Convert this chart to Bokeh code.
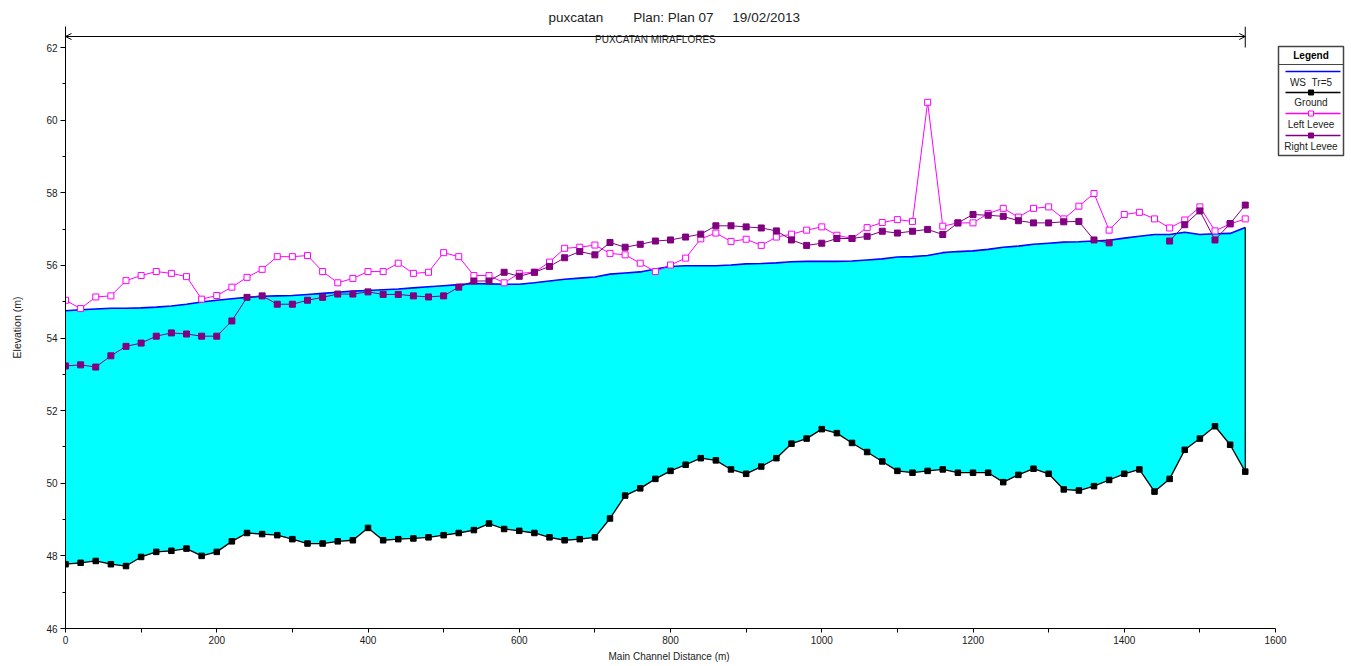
import numpy as np
from bokeh.plotting import figure
from bokeh.models import FixedTicker, Label, Arrow, OpenHead, Title
from bokeh.embed import file_html
from bokeh.resources import INLINE

# ---------------- data ----------------
station = [0, 20, 40, 60, 80, 100, 120, 140, 160, 180, 200, 220, 240, 260, 280, 300,
           320, 340, 360, 380, 400, 420, 440, 460, 480, 500, 520, 540, 560, 580, 600,
           620, 640, 660, 680, 700, 720, 740, 760, 780, 800, 820, 840, 860, 880, 900,
           920, 940, 960, 980, 1000, 1020, 1040, 1060, 1080, 1100, 1120, 1140, 1160,
           1180, 1200, 1220, 1240, 1260, 1280, 1300, 1320, 1340, 1360, 1380, 1400,
           1420, 1440, 1460, 1480, 1500, 1520, 1540, 1560]

ground = [47.77, 47.81, 47.86, 47.77, 47.72, 47.97, 48.11, 48.14, 48.20, 48.00, 48.11,
          48.40, 48.63, 48.60, 48.57, 48.46, 48.34, 48.34, 48.40, 48.43, 48.77, 48.43,
          48.46, 48.48, 48.51, 48.57, 48.63, 48.71, 48.89, 48.74, 48.69, 48.63, 48.51,
          48.43, 48.46, 48.51, 49.03, 49.66, 49.86, 50.12, 50.34, 50.51, 50.69, 50.63,
          50.38, 50.26, 50.46, 50.69, 51.09, 51.23, 51.49, 51.38, 51.11, 50.86, 50.60,
          50.34, 50.29, 50.34, 50.38, 50.29, 50.29, 50.29, 50.03, 50.23, 50.40, 50.26,
          49.83, 49.80, 49.92, 50.09, 50.26, 50.38, 49.77, 50.12, 50.92, 51.23, 51.57,
          51.06, 50.32]

ws_tr5 = [54.75, 54.78, 54.80, 54.82, 54.82, 54.83, 54.85, 54.88, 54.93, 54.99, 55.04,
          55.08, 55.12, 55.15, 55.16, 55.17, 55.20, 55.23, 55.26, 55.29, 55.31, 55.33,
          55.35, 55.38, 55.41, 55.44, 55.47, 55.50, 55.49, 55.48, 55.48, 55.52, 55.57,
          55.62, 55.65, 55.68, 55.76, 55.79, 55.82, 55.90, 55.97, 55.99, 55.99, 55.99,
          56.01, 56.04, 56.05, 56.07, 56.10, 56.11, 56.11, 56.11, 56.12, 56.15, 56.18,
          56.23, 56.24, 56.27, 56.35, 56.38, 56.40, 56.44, 56.50, 56.53, 56.58, 56.61,
          56.64, 56.65, 56.67, 56.69, 56.75, 56.80, 56.85, 56.85, 56.91, 56.85, 56.87,
          56.88, 57.04]

left_levee = [55.04, 54.81, 55.13, 55.16, 55.58, 55.72, 55.83, 55.78, 55.69, 55.07, 55.17,
              55.40, 55.67, 55.89, 56.24, 56.24, 56.27, 55.83, 55.52, 55.64, 55.83, 55.83,
              56.06, 55.78, 55.81, 56.35, 56.24, 55.72, 55.72, 55.52, 55.78, 55.81, 56.09,
              56.47, 56.50, 56.56, 56.33, 56.29, 56.06, 55.83, 56.01, 56.20, 56.73, 56.89,
              56.66, 56.72, 56.55, 56.78, 56.86, 56.97, 57.06, 56.83, 56.74, 57.04, 57.18,
              57.26, 57.21, 60.49, 57.08, 57.17, 57.17, 57.43, 57.57, 57.33, 57.57, 57.61,
              57.28, 57.63, 57.98, 56.97, 57.40, 57.46, 57.28, 57.03, 57.25, 57.61, 56.95,
              57.14, 57.28]

right_levee = [53.23, 53.26, 53.20, 53.51, 53.77, 53.86, 54.05, 54.14, 54.11, 54.05, 54.05,
               54.47, 55.12, 55.16, 54.93, 54.93, 55.04, 55.12, 55.21, 55.21, 55.27, 55.20,
               55.20, 55.16, 55.13, 55.16, 55.40, 55.57, 55.57, 55.81, 55.70, 55.81, 55.97,
               56.21, 56.38, 56.29, 56.63, 56.50, 56.58, 56.67, 56.70, 56.78, 56.86, 57.09,
               57.09, 57.06, 57.03, 56.95, 56.70, 56.55, 56.61, 56.74, 56.74, 56.80, 56.94,
               56.89, 56.94, 56.99, 56.85, 57.17, 57.40, 57.38, 57.35, 57.23, 57.17, 57.17,
               57.20, 57.21, 56.70, 56.62, None, None, None, 56.67, 57.12, 57.50, 56.70,
               57.15, 57.66]

x_ticks = [0, 200, 400, 600, 800, 1000, 1200, 1400, 1600]
x_minor = [100, 300, 500, 700, 900, 1100, 1300, 1500]
y_ticks = [46, 48, 50, 52, 54, 56, 58, 60, 62]
y_minor = [47, 49, 51, 53, 55, 57, 59, 61]

title_text = "puxcatan\u00a0\u00a0\u00a0\u00a0\u00a0\u00a0\u00a0\u00a0Plan: Plan 07\u00a0\u00a0\u00a0\u00a0\u00a019/02/2013"
reach_name = "PUXCATAN MIRAFLORES"
x_label = "Main Channel Distance (m)"
y_label = "Elevation (m)"
legend_title = "Legend"
legend_labels = ["WS\u00a0\u00a0Tr=5", "Ground", "Left Levee", "Right Levee"]

# ---------------- layout helpers (canvas pixels -> data) ----------------
FONT = "Liberation Sans"
W, H = 1348, 666
FR_L, FR_R, FR_T, FR_B = 65, 1345, 26, 628
PX_PER_M = 1210.0 / 1600.0
PX_PER_U = 581.0 / 16.0


def dx(px):
    return (px - FR_L) / PX_PER_M


def dy(py):
    return 46.0 + (FR_B - py) / PX_PER_U


st = np.array(station, dtype=float)
gr = np.array(ground, dtype=float)
ws = np.array(ws_tr5, dtype=float)
ll = np.array(left_levee, dtype=float)
rl = np.array([np.nan if v is None else v for v in right_levee], dtype=float)

p = figure(width=W, height=H, output_backend="svg", toolbar_location=None,
           x_range=(dx(FR_L), dx(FR_R)), y_range=(dy(FR_B), dy(FR_T)),
           min_border_left=FR_L, min_border_right=W - FR_R, min_border_top=FR_T,
           min_border_bottom=H - FR_B)
p.xgrid.grid_line_color = None
p.ygrid.grid_line_color = None
p.outline_line_color = None
p.background_fill_color = "white"
p.border_fill_color = "white"

# title (above the frame, left aligned with an offset)
p.title.text = title_text
p.title.align = "left"
p.title.offset = 548 - FR_L
p.title.text_font = FONT
p.title.text_font_size = "13.5px"
p.title.text_font_style = "normal"
p.title.text_color = "#222222"
p.title.standoff = 4

# axes
p.xaxis.ticker = FixedTicker(ticks=x_ticks, minor_ticks=x_minor)
p.yaxis.ticker = FixedTicker(ticks=y_ticks, minor_ticks=y_minor)
p.xaxis.bounds = (x_ticks[0], x_ticks[-1])
for ax in (p.xaxis[0], p.yaxis[0]):
    ax.axis_line_color = "black"
    ax.axis_line_width = 1
    ax.major_tick_line_color = "black"
    ax.minor_tick_line_color = "black"
    ax.major_tick_in = 0
    ax.minor_tick_in = 0
    ax.major_label_text_font = FONT
    ax.major_label_text_font_size = "10px"
    ax.major_label_text_color = "#1a1a1a"
    ax.major_label_standoff = 3
p.xaxis.major_tick_out = 4
p.xaxis.minor_tick_out = 4
p.yaxis.major_tick_out = 5
p.yaxis.minor_tick_out = 3
p.yaxis.axis_label = y_label
p.yaxis.axis_label_text_font = FONT
p.yaxis.axis_label_text_font_size = "10.5px"
p.yaxis.axis_label_text_font_style = "normal"
p.yaxis.axis_label_text_color = "#222222"
p.yaxis.axis_label_standoff = 20

# x label as a left-aligned title under the axis
p.add_layout(Title(text=x_label, align="left", offset=608 - FR_L, text_font=FONT,
                   text_font_size="10px", text_font_style="normal",
                   text_color="#222222", standoff=5), "below")

# water area
p.varea(x=st, y1=gr, y2=ws, fill_color="#00FFFF", fill_alpha=1.0)
p.line(st, ws, line_color="#0000FF", line_width=1.6)
p.segment(x0=[st[-1]], y0=[gr[-1]], x1=[st[-1]], y1=[ws[-1]],
          line_color="black", line_width=1.2)

# ground
p.line(st, gr, line_color="black", line_width=1.3)
p.scatter(st, gr, marker="square", size=5.5, fill_color="black", line_color="black")

# left levee
p.line(st, ll, line_color="#FF00FF", line_width=1)
p.scatter(st, ll, marker="square", size=6, fill_color="white", line_color="#FF00FF",
          line_width=1)

# right levee
p.line(st, rl, line_color="#800080", line_width=1)
p.scatter(st, rl, marker="square", size=6, fill_color="#800080", line_color="#800080")

# reach marker
y_reach = dy(36)
p.add_layout(Arrow(x_start=st[0], y_start=y_reach, x_end=st[-1], y_end=y_reach,
                   start=OpenHead(size=6, line_width=1, line_color="black"),
                   end=OpenHead(size=6, line_width=1, line_color="black"),
                   line_color="black", line_width=1))
p.segment(x0=[st[-1]], y0=[dy(26)], x1=[st[-1]], y1=[dy(47)],
          line_color="black", line_width=1)
p.add_layout(Label(x=(st[0] + st[-1]) / 2, y=dy(38.5), text=reach_name,
                   text_align="center", text_baseline="middle", text_font=FONT,
                   text_font_size="10px", text_color="#222222"))

# legend (glyph above label, like the original)
L, R, T, B = 1278, 1343, 46, 155
p.quad(left=[dx(L)], right=[dx(R)], top=[dy(T)], bottom=[dy(B)],
       fill_color="white", line_color="#444444", line_width=1.5)
cx = (L + R) / 2
p.add_layout(Label(x=dx(cx), y=dy(55), text=legend_title, text_align="center",
                   text_baseline="middle", text_font=FONT, text_font_size="10px",
                   text_font_style="bold", text_color="black"))
p.segment(x0=[dx(L)], y0=[dy(64)], x1=[dx(R)], y1=[dy(64)], line_color="#444444",
          line_width=1)
line_ys = [71, 92, 113, 135]
text_ys = [82, 102, 124, 146]
colors = ["#0000FF", "black", "#FF00FF", "#800080"]
mfill = [None, "black", "white", "#800080"]
for lab, ly, ty, c, mf in zip(legend_labels, line_ys, text_ys, colors, mfill):
    p.segment(x0=[dx(L + 7)], y0=[dy(ly)], x1=[dx(R - 3)], y1=[dy(ly)],
              line_color=c, line_width=1.3)
    if mf is not None:
        p.scatter([dx(cx)], [dy(ly)], marker="square", size=5, fill_color=mf,
                  line_color=c, line_width=1)
    p.add_layout(Label(x=dx(cx), y=dy(ty), text=lab,
                       text_align="center", text_baseline="middle", text_font=FONT,
                       text_font_size="10px", text_color="#222222"))

open("out.html", "w").write(file_html(p, INLINE))
